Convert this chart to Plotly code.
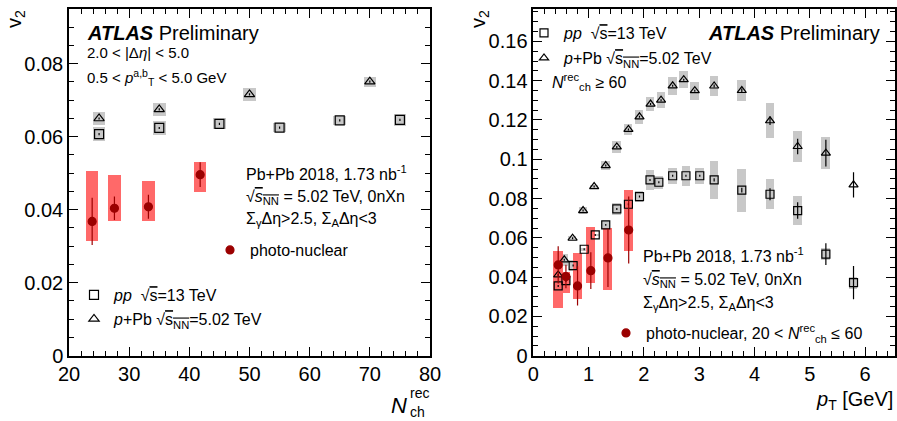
import plotly.graph_objects as go

# ---------------- data: left panel (v2 vs Nch) ----------------
nch_pp = [25, 35, 45, 55, 65, 75]
v2_nch_pp = [0.0607, 0.0624, 0.0635, 0.0625, 0.0645, 0.0646]
v2_nch_pp_stat = [0.0003, 0.0003, 0.0003, 0.0003, 0.0003, 0.0003]
v2_nch_pp_syst = [0.0020, 0.0018, 0.0015, 0.0013, 0.0013, 0.0016]

nch_ppb = [25, 35, 50, 70]
v2_nch_ppb = [0.0650, 0.0675, 0.0716, 0.0751]
v2_nch_ppb_stat = [0.0003, 0.0003, 0.0003, 0.0003]
v2_nch_ppb_syst = [0.0017, 0.0017, 0.0018, 0.0014]

nch_pn = [23.85, 27.55, 33.2, 41.8]
v2_nch_pn = [0.0368, 0.0404, 0.0408, 0.0496]
v2_nch_pn_stat = [0.0065, 0.0032, 0.0033, 0.0034]
v2_nch_pn_syst_lo = [0.0315, 0.0370, 0.0370, 0.0448]
v2_nch_pn_syst_hi = [0.0507, 0.0495, 0.0479, 0.0531]

# ---------------- data: right panel (v2 vs pT) ----------------
pt_pp = [0.45, 0.59, 0.72, 0.92, 1.12, 1.31, 1.51, 1.72, 1.92, 2.11,
         2.27, 2.52, 2.76, 3.01, 3.27, 3.77, 4.28, 4.78, 5.29, 5.79]
v2_pt_pp = [0.0355, 0.0382, 0.0459, 0.0542, 0.0615, 0.0666, 0.0747, 0.0771, 0.0810, 0.0895,
            0.0883, 0.0916, 0.0916, 0.0916, 0.0895, 0.0843, 0.0822, 0.0739, 0.0517, 0.0372]
v2_pt_pp_stat = [0.0005, 0.0005, 0.0005, 0.0005, 0.0005, 0.0005, 0.0005, 0.0005, 0.0005, 0.0005,
                 0.0005, 0.0005, 0.0005, 0.0005, 0.0008, 0.0012, 0.0030, 0.0042, 0.0055, 0.0085]
v2_pt_pp_syst = [0.0030, 0.0020, 0.0030, 0.0005, 0.0005, 0.0020, 0.0030, 0.0030, 0.0030, 0.0050,
                 0.0034, 0.0040, 0.0050, 0.0040, 0.0096, 0.0110, 0.0076, 0.0072, 0.0030, 0.0030]

pt_ppb = [0.45, 0.56, 0.71, 0.90, 1.10, 1.31, 1.51, 1.72, 1.92, 2.12,
          2.31, 2.52, 2.72, 2.92, 3.27, 3.77, 4.28, 4.78, 5.29, 5.79]
v2_pt_ppb = [0.0411, 0.0488, 0.0598, 0.0739, 0.0861, 0.0968, 0.1063, 0.1152, 0.1216, 0.1281,
             0.1301, 0.1374, 0.1405, 0.1349, 0.1373, 0.1350, 0.1196, 0.1065, 0.1031, 0.0870]
v2_pt_ppb_stat = [0.0005, 0.0005, 0.0005, 0.0005, 0.0005, 0.0005, 0.0005, 0.0005, 0.0005, 0.0005,
                  0.0005, 0.0005, 0.0005, 0.0005, 0.0008, 0.0010, 0.0022, 0.0040, 0.0068, 0.0064]
v2_pt_ppb_syst = [0.0030, 0.0030, 0.0010, 0.0020, 0.0010, 0.0025, 0.0030, 0.0030, 0.0036, 0.0034,
                  0.0040, 0.0047, 0.0042, 0.0045, 0.0053, 0.0055, 0.0089, 0.0081, 0.0081, 0.0000]

pt_pn = [0.45, 0.59, 0.80, 1.04, 1.35, 1.725]
v2_pt_pn = [0.0462, 0.0403, 0.0355, 0.0433, 0.0498, 0.0640]
v2_pt_pn_stat = [0.0095, 0.0060, 0.0100, 0.0094, 0.0148, 0.0170]
v2_pt_pn_syst_lo = [0.0242, 0.0321, 0.0289, 0.0372, 0.0335, 0.0533]
v2_pt_pn_syst_hi = [0.0535, 0.0428, 0.0525, 0.0654, 0.0649, 0.0844]

# ---------------- style ----------------
W, H = 897, 421
FONT = "Liberation Sans, Arial, sans-serif"
GREY = "rgb(200,200,200)"
RED_BOX = "rgb(255,105,105)"
DARK_RED = "rgb(155,0,0)"

fig = go.Figure()


def syst_bars(x, lo, hi, hw, color, xa, ya):
    fig.add_trace(go.Bar(
        x=x, y=[h - l for l, h in zip(lo, hi)], base=lo, width=2 * hw,
        marker=dict(color=color, line=dict(width=0)),
        showlegend=False, hoverinfo="skip", xaxis=xa, yaxis=ya))


def points(x, y, err, symbol, size, color, fill, name, legend, xa, ya, showlegend):
    fig.add_trace(go.Scatter(
        x=x, y=y, mode="markers", name=name, legend=legend, showlegend=showlegend,
        error_y=dict(type="data", array=err, visible=True, color=color, thickness=1.2, width=0),
        marker=dict(symbol=symbol, size=size, color=fill,
                    line=dict(color=color, width=1.2)),
        xaxis=xa, yaxis=ya))


# left panel
syst_bars(nch_pp, [v - s for v, s in zip(v2_nch_pp, v2_nch_pp_syst)],
          [v + s for v, s in zip(v2_nch_pp, v2_nch_pp_syst)], 1.05, GREY, "x", "y")
syst_bars(nch_ppb, [v - s for v, s in zip(v2_nch_ppb, v2_nch_ppb_syst)],
          [v + s for v, s in zip(v2_nch_ppb, v2_nch_ppb_syst)], 1.05, GREY, "x", "y")
syst_bars(nch_pn, v2_nch_pn_syst_lo, v2_nch_pn_syst_hi, 1.05, RED_BOX, "x", "y")

# right panel
syst_bars(pt_pp, [v - s for v, s in zip(v2_pt_pp, v2_pt_pp_syst)],
          [v + s for v, s in zip(v2_pt_pp, v2_pt_pp_syst)], 0.075, GREY, "x2", "y2")
syst_bars(pt_ppb, [v - s for v, s in zip(v2_pt_ppb, v2_pt_ppb_syst)],
          [v + s for v, s in zip(v2_pt_ppb, v2_pt_ppb_syst)], 0.075, GREY, "x2", "y2")
syst_bars(pt_pn, v2_pt_pn_syst_lo, v2_pt_pn_syst_hi, 0.085, RED_BOX, "x2", "y2")

SQRT_S = "√<span style='text-decoration:overline'>s</span>"
SQRT_SNN = "√<span style='text-decoration:overline'><i>s</i><sub>NN</sub></span>"
SQRT_SNN_LEG = "√<span style='text-decoration:overline'>s<sub>NN</sub></span>"

points(nch_pp, v2_nch_pp, v2_nch_pp_stat, "square-open", 9, "black", "black",
       "<i>pp</i>  " + SQRT_S + "=13 TeV", "legend", "x", "y", True)
points(nch_ppb, v2_nch_ppb, v2_nch_ppb_stat, "triangle-up-open", 9, "black", "black",
       "<i>p</i>+Pb " + SQRT_SNN_LEG + "=5.02 TeV", "legend2", "x", "y", True)
points(nch_pn, v2_nch_pn, v2_nch_pn_stat, "circle", 8, DARK_RED, DARK_RED,
       "photo-nuclear", "legend3", "x", "y", True)

points(pt_pp, v2_pt_pp, v2_pt_pp_stat, "square-open", 8, "black", "black",
       "<i>pp</i>  " + SQRT_S + "=13 TeV", "legend4", "x2", "y2", True)
points(pt_ppb, v2_pt_ppb, v2_pt_ppb_stat, "triangle-up-open", 8, "black", "black",
       "<i>p</i>+Pb " + SQRT_SNN_LEG + "=5.02 TeV", "legend5", "x2", "y2", True)
points(pt_pn, v2_pt_pn, v2_pt_pn_stat, "circle", 8, DARK_RED, DARK_RED,
       "photo-nuclear, 20 < <i>N</i><sup>rec</sup><sub>ch</sub> ≤ 60", "legend6", "x2", "y2", True)

# ---------------- axes ----------------
PX_L, PX_R = 69, 430
PX2_L, PX2_R = 533.3, 895
PY_T, PY_B = 9, 355.7


def px(x):
    return x / W


def py(y):
    return 1 - y / H


def axis_common(rng, dtick, minor_dtick, domain, anchor):
    return dict(
        range=rng, domain=domain, anchor=anchor, dtick=dtick, tick0=0, automargin=False,
        showgrid=False, zeroline=False, showline=True, linecolor="black", linewidth=1.5,
        mirror="allticks", ticks="inside", ticklen=9, tickwidth=1, tickcolor="black",
        minor=dict(dtick=minor_dtick, ticks="inside", ticklen=5, tickwidth=1,
                   tickcolor="black", showgrid=False),
        tickfont=dict(family=FONT, size=20, color="black"),
    )


xd1 = [px(PX_L), px(PX_R)]
xd2 = [px(PX2_L), px(PX2_R)]
yd = [py(PY_B), py(PY_T)]

fig.update_layout(
    xaxis=axis_common([20, 80], 10, 2, xd1, "y"),
    yaxis=axis_common([0, 0.095], 0.02, 0.005, yd, "x"),
    xaxis2=axis_common([0, 6.54], 1, 0.2, xd2, "y2"),
    yaxis2=axis_common([0, 0.1765], 0.02, 0.005, yd, "x2"),
)
fig.update_yaxes(tickformat="~g")

# ---------------- legends ----------------
def legend_at(xpix, ypix):
    return dict(x=px(xpix), y=py(ypix), xref="paper", yref="paper",
                xanchor="left", yanchor="middle", bgcolor="rgba(0,0,0,0)",
                borderwidth=0, font=dict(family=FONT, size=16, color="black"),
                itemwidth=30, tracegroupgap=0)


fig.update_layout(
    legend=legend_at(74, 295),
    legend2=legend_at(74, 319),
    legend3=legend_at(210, 250),
    legend4=legend_at(524, 33),
    legend5=legend_at(524, 58),
    legend6=legend_at(606, 333),
)

# ---------------- annotations ----------------
ann = []


def text(xpix, ypix, s, size=16, xanchor="left", yanchor="middle", angle=0):
    ann.append(dict(x=px(xpix), y=py(ypix), xref="paper", yref="paper", text=s,
                    showarrow=False, xanchor=xanchor, yanchor=yanchor, textangle=angle,
                    font=dict(family=FONT, size=size, color="black")))


# left panel texts
text(85, 33, "<b><i>ATLAS</i></b> Preliminary", size=20)
text(85, 53, "2.0 < |Δ<i>η</i>| < 5.0", size=15)
text(85, 78, "0.5 < <i>p</i><sup>a,b</sup><sub>T</sub> < 5.0 GeV", size=15)
text(244, 173, "Pb+Pb 2018, 1.73 nb<sup>-1</sup>")
text(244, 197, SQRT_SNN + " = 5.02 TeV, 0nXn")
text(244, 220, "Σ<sub>γ</sub>Δη>2.5, Σ<sub>A</sub>Δη<3")

# right panel texts
text(882, 33, "<b><i>ATLAS</i></b> Preliminary", size=20, xanchor="right")
text(550, 82, "<i>N</i><sup>rec</sup><sub>ch</sub> ≥ 60")
text(641, 255, "Pb+Pb 2018, 1.73 nb<sup>-1</sup>")
text(641, 280, SQRT_SNN + " = 5.02 TeV, 0nXn")
text(641, 303, "Σ<sub>γ</sub>Δη>2.5, Σ<sub>A</sub>Δη<3")

# axis titles
text(15, 19, "v<sub>2</sub>", size=20, xanchor="center", angle=-90)
text(479, 19, "v<sub>2</sub>", size=20, xanchor="center", angle=-90)
text(409, 405, "<i>N</i>", size=22, xanchor="right")
text(408, 393, "rec", size=14)
text(408, 412, "ch", size=14)
text(895, 400, "<i>p</i><sub>T</sub> [GeV]", size=20, xanchor="right")

fig.update_layout(
    annotations=ann,
    width=W, height=H, margin=dict(l=0, r=0, t=0, b=0, autoexpand=False),
    paper_bgcolor="white", plot_bgcolor="white",
    barmode="overlay", bargap=0,
    font=dict(family=FONT, color="black"),
)

fig.write_html("out.html", config={"displayModeBar": False},
               post_script="document.body.style.margin='0';document.body.style.overflow='hidden';")
